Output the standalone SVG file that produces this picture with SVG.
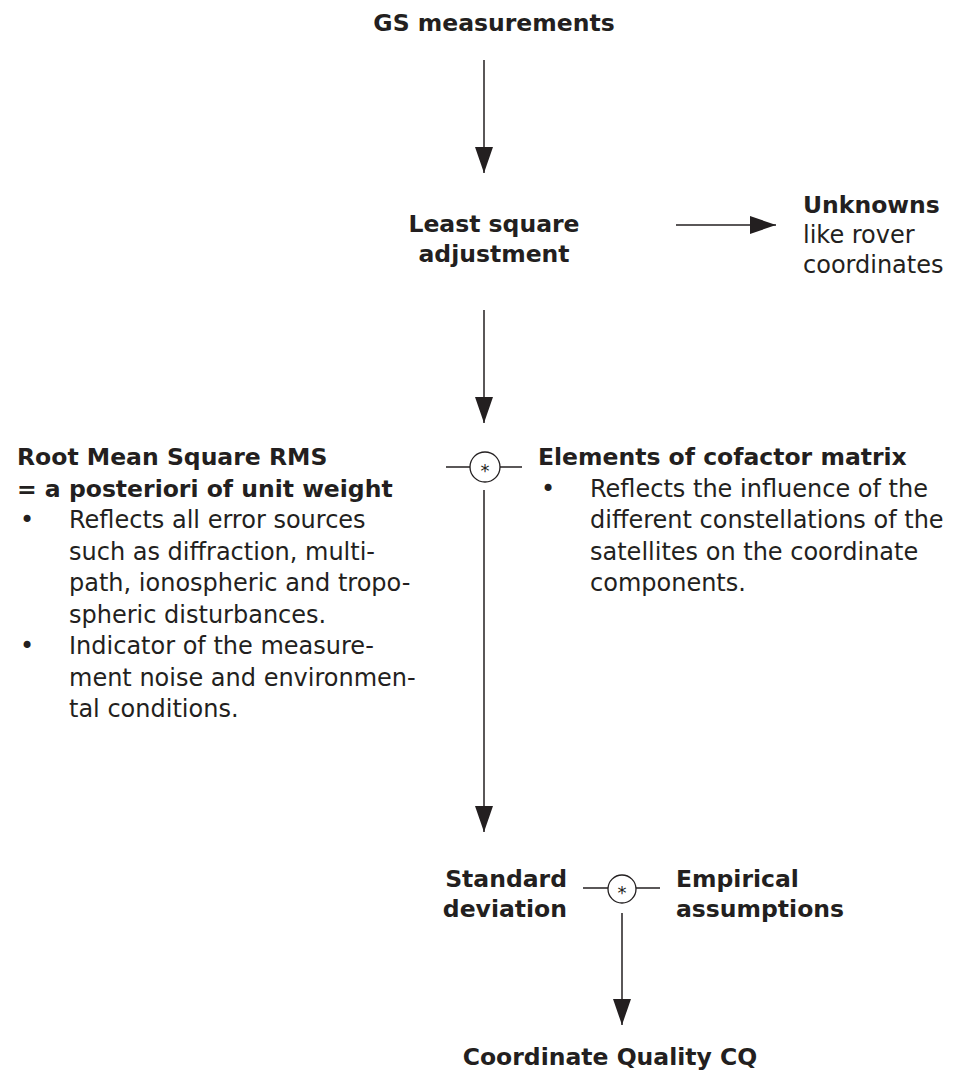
<svg xmlns="http://www.w3.org/2000/svg" width="965" height="1076" viewBox="0 0 965 1076">
<defs>
<marker id="ah" viewBox="0 0 26 18" markerWidth="26" markerHeight="18" refX="26" refY="9" orient="auto" markerUnits="userSpaceOnUse">
<path d="M0,0 L26,9 L0,18 Z" fill="#231f20"/>
</marker>
<style>
text{font-family:"DejaVu Sans","Open Sans",sans-serif;font-size:24px;fill:#231f20}
.b{font-weight:bold;font-size:23.5px}
.c{text-anchor:middle}
.r{text-anchor:end}
.ln{stroke:#231f20;stroke-width:1.5;fill:none}
.ar{marker-end:url(#ah)}
.op{fill:#fff;stroke:#231f20;stroke-width:1.3}
.st{font-size:18px}
</style>
</defs>
<rect width="965" height="1076" fill="#fff"/>
<g id="gs"><text class="b c" x="494" y="31">GS measurements</text></g>
<g id="lsa"><text class="b c" x="494" y="232">Least square<tspan x="494" dy="30">adjustment</tspan></text></g>
<g id="unknowns"><text x="803" y="213"><tspan class="b">Unknowns</tspan><tspan x="803" dy="30">like rover</tspan><tspan x="803" dy="30">coordinates</tspan></text></g>
<g id="rms">
<text x="17" y="465"><tspan class="b">Root Mean Square RMS</tspan><tspan class="b" x="17" dy="31.5">= a posteriori of unit weight</tspan><tspan x="20" dy="31.5">•</tspan><tspan x="69">Reflects all error sources</tspan><tspan x="69" dy="31.5">such as diffraction, multi-</tspan><tspan x="69" dy="31.5">path, ionospheric and tropo-</tspan><tspan x="69" dy="31.5">spheric disturbances.</tspan><tspan x="20" dy="31.5">•</tspan><tspan x="69">Indicator of the measure-</tspan><tspan x="69" dy="31.5">ment noise and environmen-</tspan><tspan x="69" dy="31.5">tal conditions.</tspan></text>
</g>
<g id="cofactor">
<text x="538" y="465"><tspan class="b">Elements of cofactor matrix</tspan><tspan x="541" dy="31.5">•</tspan><tspan x="590">Reflects the influence of the</tspan><tspan x="590" dy="31.5">different constellations of the</tspan><tspan x="590" dy="31.5">satellites on the coordinate</tspan><tspan x="590" dy="31.5">components.</tspan></text>
</g>
<g id="op1"><circle class="op" cx="485" cy="467" r="15"/><text class="c st" x="485" y="477">*</text></g>
<g id="stddev"><text class="b r" x="567" y="887">Standard<tspan x="567" dy="30">deviation</tspan></text></g>
<g id="op2"><circle class="op" cx="622" cy="889" r="14"/><text class="c st" x="622" y="899">*</text></g>
<g id="empirical"><text class="b" x="676" y="887">Empirical<tspan x="676" dy="30">assumptions</tspan></text></g>
<g id="cq"><text class="b c" x="610" y="1065">Coordinate Quality CQ</text></g>
<g id="connectors">
<line class="ln ar" x1="484" y1="60" x2="484" y2="173"/>
<line class="ln ar" x1="676" y1="225" x2="776" y2="225"/>
<line class="ln ar" x1="484" y1="310" x2="484" y2="423"/>
<line class="ln" x1="446" y1="467" x2="470" y2="467"/>
<line class="ln" x1="500" y1="467" x2="522" y2="467"/>
<line class="ln ar" x1="484" y1="490" x2="484" y2="832"/>
<line class="ln" x1="583" y1="888" x2="608" y2="888"/>
<line class="ln" x1="636" y1="888" x2="660" y2="888"/>
<line class="ln ar" x1="622" y1="913" x2="622" y2="1025"/>
</g>
</svg>
